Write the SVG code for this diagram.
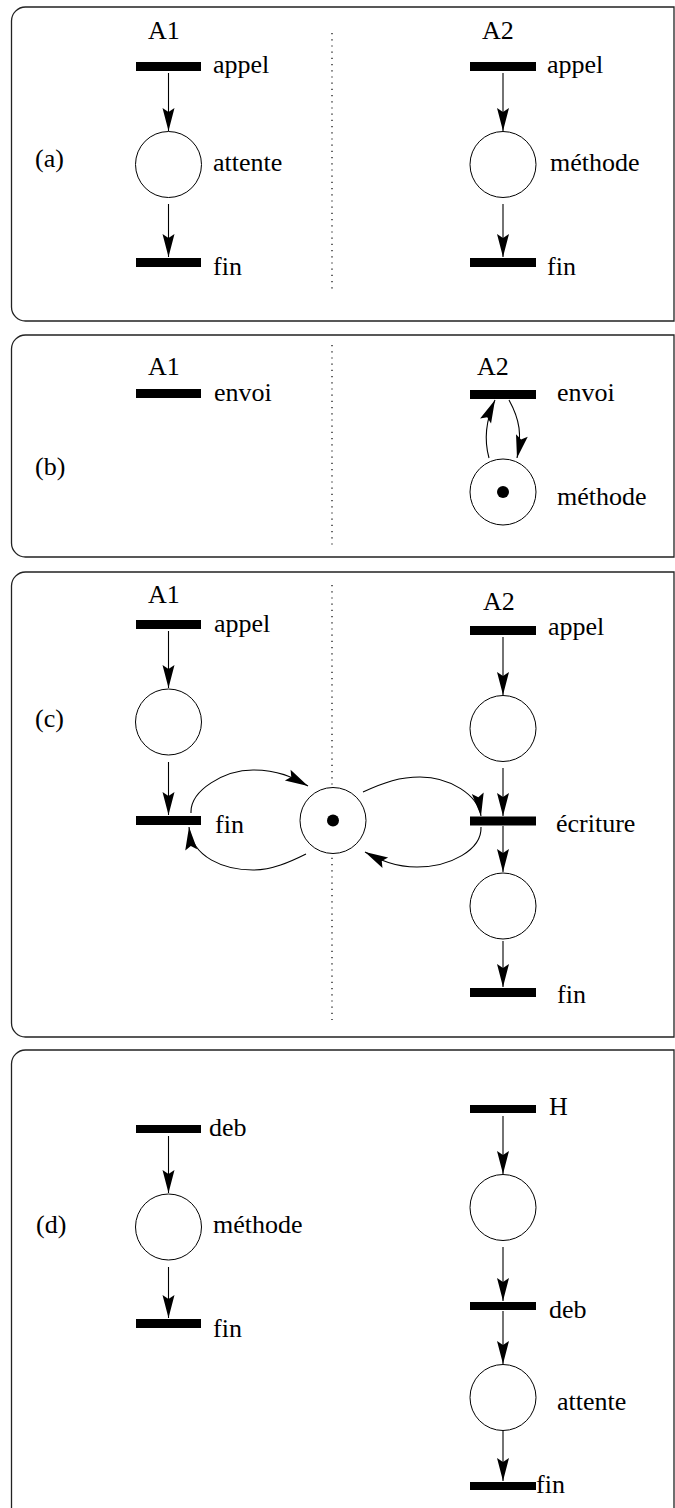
<svg xmlns="http://www.w3.org/2000/svg" width="675" height="1508" viewBox="0 0 675 1508">
<style>
text{font-family:'Liberation Serif','Times New Roman',serif;font-size:26px;fill:#000}
.frame{fill:none;stroke:#222;stroke-width:1.3}
.bar{fill:#000}
.place{fill:#fff;stroke:#000;stroke-width:1}
.tok{fill:#000}
.sep{stroke:#000;stroke-width:1.2;stroke-dasharray:1.2 5;fill:none}
.arc{fill:none;stroke:#000;stroke-width:1.1;marker-end:url(#ah)}
</style>
<defs>
<marker id="ah" viewBox="-24 -7 25 14" refX="0" refY="0" markerWidth="25" markerHeight="14" orient="auto" markerUnits="userSpaceOnUse">
<path d="M0,0 L-23,-6 L-19,0 L-23,6 Z" fill="#000"/>
</marker>
</defs>
<rect width="675" height="1508" fill="#fff"/>

<g id="frames">
<path class="frame" d="M674,7 H25.5 A14,14 0 0 0 11.5,21 V307 A14,14 0 0 0 25.5,321 H674 Z"/>
<path class="frame" d="M674,335 H25.5 A14,14 0 0 0 11.5,349 V543 A14,14 0 0 0 25.5,557 H674 Z"/>
<path class="frame" d="M674,572 H25.5 A14,14 0 0 0 11.5,586 V1023 A14,14 0 0 0 25.5,1037 H674 Z"/>
<path class="frame" d="M674,1050 H25.5 A14,14 0 0 0 11.5,1064 V1510 A14,14 0 0 0 25.5,1524 H674 Z"/>
</g>

<g id="separators">
<line class="sep" x1="332" y1="33" x2="332" y2="292"/>
<line class="sep" x1="332" y1="345" x2="332" y2="545"/>
<line class="sep" x1="332" y1="585" x2="332" y2="1020"/>
</g>

<g id="labels">
<text x="35" y="167">(a)</text>
<text x="35" y="475">(b)</text>
<text x="35" y="727">(c)</text>
<text x="36" y="1233">(d)</text>
<text x="148" y="39">A1</text>
<text x="482" y="39">A2</text>
<text x="148" y="375">A1</text>
<text x="477" y="375">A2</text>
<text x="148" y="603">A1</text>
<text x="483" y="610">A2</text>
</g>

<!-- panel (a) -->
<g id="a-A1-appel"><rect class="bar" x="136" y="62" width="65" height="9"/><text x="213" y="73">appel</text></g>
<g id="a-A1-attente"><circle class="place" cx="168.5" cy="164.5" r="33"/><text x="213" y="171">attente</text></g>
<g id="a-A1-fin"><rect class="bar" x="136" y="258" width="65" height="9"/><text x="213" y="275">fin</text></g>
<g id="a-A2-appel"><rect class="bar" x="470" y="62" width="66" height="9"/><text x="547" y="73">appel</text></g>
<g id="a-A2-methode"><circle class="place" cx="503" cy="164.5" r="33"/><text x="550" y="171">méthode</text></g>
<g id="a-A2-fin"><rect class="bar" x="470" y="258" width="66" height="9"/><text x="547" y="275">fin</text></g>

<!-- panel (b) -->
<g id="b-A1-envoi"><rect class="bar" x="136" y="389" width="65" height="9"/><text x="214" y="401">envoi</text></g>
<g id="b-A2-envoi"><rect class="bar" x="470" y="390" width="66" height="9"/><text x="557" y="401">envoi</text></g>
<g id="b-A2-methode"><circle class="place" cx="503" cy="492" r="33"/><circle class="tok" cx="503" cy="492" r="6"/><text x="557" y="505">méthode</text></g>

<!-- panel (c) -->
<g id="c-A1-appel"><rect class="bar" x="136" y="620" width="65" height="9"/><text x="214" y="632">appel</text></g>
<g id="c-A1-place"><circle class="place" cx="168.5" cy="722" r="33"/></g>
<g id="c-A1-fin"><rect class="bar" x="136" y="816" width="65" height="9"/><text x="215" y="833">fin</text></g>
<g id="c-shared"><circle class="place" cx="333" cy="820.5" r="33"/><circle class="tok" cx="333" cy="820.5" r="6"/></g>
<g id="c-A2-appel"><rect class="bar" x="470" y="626" width="66" height="9"/><text x="548" y="635">appel</text></g>
<g id="c-A2-place1"><circle class="place" cx="503" cy="728.5" r="33"/></g>
<g id="c-A2-ecriture"><rect class="bar" x="470" y="816.5" width="66" height="9"/><text x="556" y="832">écriture</text></g>
<g id="c-A2-place2"><circle class="place" cx="503" cy="906" r="33"/></g>
<g id="c-A2-fin"><rect class="bar" x="470" y="988" width="66" height="9"/><text x="557" y="1003">fin</text></g>

<!-- panel (d) -->
<g id="d-deb"><rect class="bar" x="136" y="1125" width="65" height="8"/><text x="209" y="1136">deb</text></g>
<g id="d-methode"><circle class="place" cx="168.5" cy="1227" r="33"/><text x="213" y="1233">méthode</text></g>
<g id="d-fin"><rect class="bar" x="136" y="1319" width="65" height="9"/><text x="213" y="1337">fin</text></g>
<g id="d-H"><rect class="bar" x="470" y="1105" width="66" height="8"/><text x="549" y="1115">H</text></g>
<g id="d-place"><circle class="place" cx="503" cy="1207.5" r="33"/></g>
<g id="d-deb2"><rect class="bar" x="470" y="1302" width="66" height="8"/><text x="549" y="1318">deb</text></g>
<g id="d-attente"><circle class="place" cx="503" cy="1397.5" r="33"/><text x="557" y="1410">attente</text></g>
<g id="d-fin2"><rect class="bar" x="470" y="1482" width="66" height="8"/><text x="536" y="1493">fin</text></g>

<g id="connectors">
<path class="arc" d="M168.5,73 V131"/>
<path class="arc" d="M168.5,204 V257"/>
<path class="arc" d="M503,73 V131"/>
<path class="arc" d="M503,204 V257"/>

<path class="arc" d="M489,458 C484,440 486,420 495,400"/>
<path class="arc" d="M509,400 C520,420 522,435 517,458"/>

<path class="arc" d="M168.5,631 V688"/>
<path class="arc" d="M168.5,762 V815"/>
<path class="arc" d="M191,813 C190,790 225,770 253,770 S295,779 308,786"/>
<path class="arc" d="M306,854 C290,862 272,870 253,870 C225,870 192,858 189,827"/>
<path class="arc" d="M363,792 C385,782 400,777 420,777 C450,777 478,795 481,816"/>
<path class="arc" d="M481,827 C482,850 450,867 417,867 C395,867 380,860 365,852"/>
<path class="arc" d="M503,637 V695"/>
<path class="arc" d="M503,768 V816"/>
<path class="arc" d="M503,826 V872"/>
<path class="arc" d="M503,941 V987"/>

<path class="arc" d="M168.5,1136 V1193"/>
<path class="arc" d="M168.5,1267 V1318"/>
<path class="arc" d="M503,1116 V1174"/>
<path class="arc" d="M503,1247 V1301"/>
<path class="arc" d="M503,1311 V1364"/>
<path class="arc" d="M503,1431 V1481"/>
</g>
</svg>
